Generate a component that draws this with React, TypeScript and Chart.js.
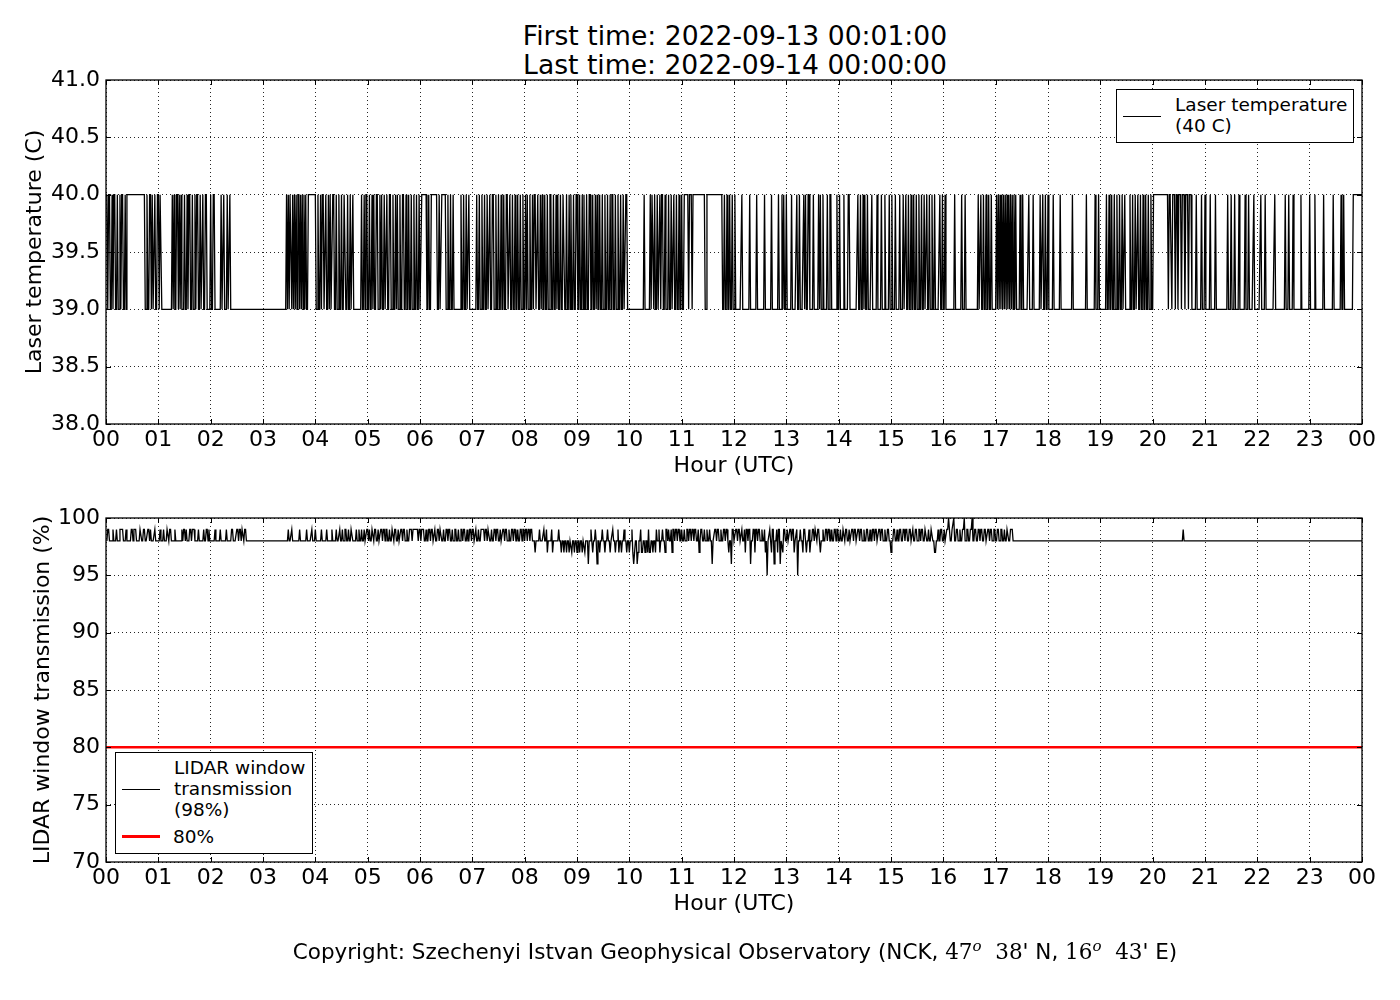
import { useEffect, useRef } from "react";
import { Chart, registerables } from "chart.js";

Chart.register(...registerables);

// hour labels on the x axis (minutes 0..1440, one tick per hour)
const hourTicks = ["00", "01", "02", "03", "04", "05", "06", "07", "08", "09", "10", "11", "12",
  "13", "14", "15", "16", "17", "18", "19", "20", "21", "22", "23", "00"];

const tempTicks = [38.0, 38.5, 39.0, 39.5, 40.0, 40.5, 41.0];
const transTicks = [70, 75, 80, 85, 90, 95, 100];

// laser temperature: minutes [from, to) where the reading is 40 C, otherwise 39 C
const laserHigh: [number, number][] = [
  [1, 2], [3, 5], [7, 8], [9, 11], [13, 14], [16, 17], [18, 20], [22, 23], [24, 45],
  [47, 48], [50, 52], [53, 54], [56, 57], [59, 61], [62, 64],
  [76, 77], [78, 79], [81, 83], [84, 85], [86, 87],
  [90, 91], [93, 94], [95, 97], [99, 100], [102, 103], [104, 106], [108, 109], [111, 112], [114, 116],
  [120, 121], [123, 125], [132, 133], [135, 136], [139, 140], [142, 143],
  [207, 208], [209, 210], [211, 213], [214, 215], [216, 217], [218, 219], [220, 222], [223, 224],
  [225, 226], [227, 228], [229, 230], [232, 241],
  [243, 244], [246, 247], [248, 250], [252, 253], [255, 256], [257, 258], [260, 262], [264, 265],
  [267, 268], [270, 271], [273, 275], [277, 278], [280, 281], [283, 284],
  [293, 294], [296, 297], [298, 300], [302, 303], [305, 306], [307, 308], [310, 312], [314, 315],
  [316, 317], [319, 320], [322, 323], [325, 327], [329, 330], [332, 333], [334, 335], [337, 338],
  [340, 342], [344, 345], [347, 348], [350, 351], [353, 354], [356, 357], [359, 360], [362, 368],
  [370, 371], [373, 380], [382, 383], [385, 390], [392, 393], [395, 396], [398, 399],
  [407, 408], [410, 411], [413, 414], [416, 417],
  [425, 426], [428, 429], [431, 432], [434, 435], [437, 438], [440, 441], [443, 445], [447, 448],
  [450, 451], [453, 454], [456, 457], [459, 461], [463, 464], [466, 467], [469, 470], [472, 473],
  [475, 476], [478, 479],
  [481, 482], [483, 484], [486, 487], [489, 490], [491, 493], [495, 496], [498, 499], [500, 501],
  [503, 504], [506, 507], [509, 511], [513, 514], [516, 517], [518, 519], [521, 522], [524, 526],
  [528, 529], [531, 532], [533, 534], [536, 537], [539, 541], [543, 544], [546, 547], [548, 549],
  [551, 552], [554, 556], [558, 559], [561, 562], [563, 564], [566, 567], [569, 570], [572, 573],
  [575, 576], [578, 579], [580, 582], [584, 585], [587, 588], [590, 591], [593, 594], [596, 598],
  [617, 618], [624, 625], [626, 628], [629, 630], [632, 633], [635, 636], [637, 639], [641, 642],
  [645, 646], [648, 649], [651, 652], [654, 655], [657, 658], [660, 661],
  [663, 668], [669, 672], [673, 687], [689, 707],
  [709, 710], [712, 713], [715, 716], [718, 719], [721, 722],
  [729, 730], [738, 739], [746, 747], [755, 756], [763, 764], [771, 772],
  [775, 776], [777, 778], [780, 781], [786, 787], [792, 793], [795, 796], [800, 801], [802, 803],
  [805, 807], [811, 812], [817, 818], [819, 820], [822, 823], [827, 828], [830, 832], [838, 839],
  [841, 842], [846, 847], [851, 853],
  [862, 863], [865, 866], [868, 869], [870, 871], [873, 874], [878, 879], [884, 885], [889, 890], [893, 894],
  [898, 899], [901, 902], [905, 906], [910, 911], [914, 915], [917, 918], [920, 921], [923, 924],
  [926, 927], [929, 930], [932, 933], [935, 936], [938, 939], [941, 942], [944, 945], [947, 948], [950, 951],
  [956, 957], [959, 960], [962, 963], [973, 974], [981, 982], [985, 986],
  [1000, 1001], [1003, 1004], [1006, 1007], [1009, 1010], [1012, 1013], [1015, 1016],
  [1021, 1022], [1023, 1024], [1025, 1026], [1027, 1028], [1029, 1030], [1031, 1032], [1033, 1034],
  [1035, 1036], [1037, 1038], [1039, 1040], [1041, 1042], [1043, 1044],
  [1048, 1049], [1051, 1052], [1058, 1059], [1063, 1064],
  [1071, 1072], [1074, 1075], [1077, 1078], [1080, 1081], [1086, 1087], [1094, 1095], [1108, 1109],
  [1124, 1125], [1134, 1135], [1138, 1139],
  [1147, 1148], [1150, 1151], [1153, 1154], [1156, 1157], [1159, 1160], [1162, 1163], [1165, 1166], [1168, 1169],
  [1174, 1175], [1177, 1178], [1180, 1181], [1183, 1184], [1186, 1187], [1189, 1190], [1192, 1193],
  [1195, 1196], [1198, 1199],
  [1201, 1218], [1219, 1222], [1223, 1226], [1227, 1229], [1230, 1233], [1234, 1237], [1238, 1241], [1242, 1245],
  [1250, 1251], [1256, 1257], [1260, 1261], [1266, 1267], [1272, 1273],
  [1286, 1287], [1290, 1291], [1294, 1295], [1299, 1300], [1306, 1307], [1310, 1311], [1316, 1317],
  [1324, 1325], [1329, 1330], [1340, 1341], [1352, 1353], [1356, 1357], [1361, 1362], [1370, 1371],
  [1380, 1381], [1386, 1387], [1396, 1397], [1407, 1408], [1416, 1417], [1419, 1420], [1430, 1441],
];

// window transmission: [minute, value] change points, the value holds until the next one (starts at 98 %)
const transChanges: [number, number][] = [
  [2, 99], [4, 98], [8, 99], [9, 98], [12, 99], [13, 98], [16, 99], [20, 98], [23, 99], [24, 98],
  [29, 99], [31, 98], [32, 99], [35, 98], [39, 99], [41, 98], [43, 99], [45, 98], [48, 99], [50, 98],
  [51, 99], [52, 98], [56, 99], [57, 98], [62, 99], [63, 98], [66, 99], [67, 98], [70, 99], [72, 98],
  [73, 99], [75, 98], [79, 99], [80, 98], [87, 99], [88, 98], [89, 99], [91, 98], [92, 99], [93, 98],
  [96, 99], [98, 98], [99, 99], [102, 98], [106, 99], [107, 98], [112, 99], [113, 98], [115, 99], [117, 98],
  [118, 99], [119, 98], [125, 99], [126, 98], [131, 99], [132, 98], [138, 99], [139, 98], [144, 99], [146, 98],
  [150, 99], [152, 98], [153, 99], [155, 98], [156, 99], [158, 98], [159, 99], [161, 98],
  [209, 99], [210, 98], [213, 99], [214, 98], [222, 99], [223, 98], [230, 99], [231, 98], [236, 99], [237, 98],
  [240, 99], [241, 98], [247, 99], [248, 98], [253, 99], [254, 98], [259, 99], [260, 98], [264, 99], [265, 98],
  [268, 99], [269, 98], [271, 99], [272, 98], [274, 99], [276, 98], [278, 99], [279, 98], [281, 99], [283, 98],
  [287, 99], [288, 98], [290, 99], [291, 98], [293, 99], [294, 98], [296, 99], [297, 98], [299, 99], [301, 98],
  [302, 99], [303, 98], [305, 99], [307, 98], [308, 99], [310, 98], [312, 99], [313, 98], [315, 99], [317, 98],
  [318, 99], [320, 98], [321, 99], [323, 98], [325, 99], [326, 98], [328, 99], [330, 98], [331, 99], [333, 98],
  [335, 99], [336, 98], [338, 99], [340, 98], [341, 99], [343, 98], [345, 99], [346, 98], [348, 99], [351, 98],
  [352, 99], [358, 98], [359, 99], [361, 98], [362, 99], [365, 98], [367, 99], [368, 98], [370, 99], [372, 98],
  [373, 99], [375, 98], [377, 99], [378, 98], [380, 99], [382, 98], [383, 99], [385, 98], [387, 99], [388, 98],
  [390, 99], [392, 98], [393, 99], [395, 98], [397, 99], [398, 98], [400, 99], [402, 98], [404, 99], [405, 98],
  [407, 99], [409, 98], [410, 99], [412, 98], [414, 99], [415, 98], [417, 99], [419, 98], [420, 99], [422, 98],
  [424, 99], [425, 98], [427, 99], [428, 98], [430, 99], [434, 98], [435, 99], [437, 98], [438, 99], [440, 98],
  [442, 99], [443, 98], [445, 99], [447, 98], [448, 99], [450, 98], [452, 99], [453, 98], [455, 99], [457, 98],
  [458, 99], [460, 98], [462, 99], [463, 98], [465, 99], [467, 98], [468, 99], [470, 98], [472, 99], [473, 98],
  [475, 99], [477, 98], [478, 99], [480, 98], [481, 99], [483, 98], [484, 99], [486, 98], [487, 99], [489, 98],
  [492, 97], [493, 98], [497, 99], [498, 98], [502, 99], [503, 98], [505, 99], [506, 97], [507, 98], [511, 99],
  [512, 97], [513, 98], [519, 99], [520, 98],
  [522, 97], [523, 98], [525, 97], [526, 98], [528, 97], [529, 98], [531, 97], [532, 98], [534, 97], [535, 98],
  [537, 97], [538, 98], [540, 97], [541, 98], [543, 97], [544, 98], [546, 97], [547, 98], [549, 97], [550, 98],
  [553, 96], [554, 98], [556, 99], [557, 98], [558, 97], [559, 98], [561, 99], [562, 98], [563, 96], [564, 98],
  [566, 97], [567, 98], [569, 99], [570, 98], [572, 97], [573, 98], [575, 99], [576, 98], [578, 97], [579, 98],
  [581, 99], [582, 98], [584, 97], [585, 98], [587, 99], [588, 97], [589, 98], [591, 97], [592, 98], [594, 99],
  [595, 98], [597, 97], [598, 98], [600, 97], [601, 98],
  [603, 99], [604, 97], [605, 96], [606, 97], [607, 98], [609, 96], [610, 97], [611, 98], [613, 99], [614, 97],
  [616, 98], [618, 97], [619, 98], [621, 97], [622, 99], [623, 97], [625, 98], [627, 97], [628, 98], [630, 97],
  [631, 99], [632, 98], [634, 99], [635, 97], [636, 98], [638, 99], [639, 98], [641, 97], [642, 99], [644, 98],
  [645, 99], [646, 98], [648, 99], [649, 97], [650, 99], [652, 98], [653, 99], [655, 98], [656, 99], [658, 98],
  [660, 99], [661, 98], [663, 99], [664, 98], [666, 99], [668, 98], [669, 99], [671, 98], [672, 99], [674, 98],
  [675, 99], [677, 98], [679, 99], [680, 97], [681, 98], [682, 99], [684, 98], [686, 99], [687, 98], [689, 99],
  [690, 98], [692, 99], [693, 98], [695, 96], [696, 98], [698, 99], [700, 98], [701, 99], [703, 98], [705, 99],
  [706, 98], [708, 99], [710, 98], [711, 99], [713, 98], [714, 97], [715, 98], [717, 96], [718, 99], [720, 98],
  [722, 99], [724, 98], [725, 99], [727, 98], [729, 99], [730, 98], [732, 99], [733, 97], [734, 99], [736, 98],
  [737, 99], [739, 96], [740, 98], [742, 99], [744, 97], [745, 99], [747, 98], [748, 99], [750, 98], [752, 99],
  [753, 98], [755, 99], [756, 97], [757, 98], [758, 95], [759, 98], [761, 99], [762, 98], [763, 97], [764, 99],
  [766, 96], [767, 98], [769, 99], [770, 97], [771, 99], [773, 96], [774, 98], [776, 97], [777, 99], [779, 98],
  [781, 99], [782, 98], [784, 99], [786, 98], [787, 99], [789, 97], [790, 98], [792, 99], [793, 95], [794, 98],
  [796, 99], [797, 98], [799, 97], [800, 99], [802, 98], [803, 97], [804, 98], [806, 99], [807, 97], [808, 98],
  [810, 99], [812, 98], [813, 99], [815, 98], [816, 99], [818, 98], [819, 97], [820, 98], [822, 99], [823, 98],
  [825, 99], [827, 98], [828, 99], [830, 98], [832, 99], [833, 98], [835, 99], [837, 98], [838, 99], [840, 98],
  [842, 99], [843, 98], [845, 99], [847, 98], [848, 99], [850, 98], [852, 99], [853, 98], [855, 99], [857, 98],
  [858, 99], [860, 98], [862, 99], [864, 98], [865, 99], [867, 98], [869, 99], [870, 98], [872, 99], [874, 98],
  [876, 99], [877, 98], [879, 99], [881, 98], [882, 99], [884, 98], [886, 99], [888, 98], [889, 99], [891, 98],
  [893, 99], [894, 98], [896, 99], [898, 98], [900, 97], [901, 98], [903, 99], [905, 98], [907, 99], [908, 98],
  [910, 99], [912, 98], [914, 99], [916, 98], [917, 99], [919, 98], [921, 99], [923, 98], [925, 99], [926, 98],
  [928, 99], [930, 98], [932, 99], [934, 98], [935, 99], [937, 98], [939, 99], [941, 98], [943, 99], [944, 98],
  [946, 99], [948, 98], [950, 97], [952, 98], [954, 99], [955, 98], [957, 99], [959, 98], [961, 99], [962, 98],
  [964, 99], [966, 100], [967, 99], [968, 98], [970, 99], [972, 100], [973, 98], [975, 99], [977, 98], [979, 99],
  [980, 98], [982, 99], [984, 100], [985, 98], [987, 99], [989, 98], [991, 99], [993, 100], [994, 98], [996, 99],
  [998, 98], [1000, 99], [1002, 98], [1003, 99], [1005, 98], [1007, 99], [1009, 98], [1011, 99], [1013, 98],
  [1014, 99], [1016, 98], [1018, 99], [1020, 98], [1022, 99], [1024, 98], [1026, 99], [1028, 98], [1030, 99],
  [1031, 98], [1033, 99], [1035, 98], [1037, 99], [1040, 98], [1235, 99], [1236, 98],
];

const threshold = 80;

const FONT = "'DejaVu Sans', sans-serif";

function laserSeries() {
  const pts: { x: number; y: number }[] = [];
  for (let m = 1; m <= 1440; m++) {
    const hi = laserHigh.some(([a, b]) => m >= a && m < b);
    pts.push({ x: m, y: hi ? 40 : 39 });
  }
  return pts;
}

function transSeries() {
  const pts: { x: number; y: number }[] = [];
  let v = 98;
  let k = 0;
  for (let m = 1; m <= 1440; m++) {
    while (k < transChanges.length && transChanges[k][0] <= m) {
      v = transChanges[k][1];
      k++;
    }
    pts.push({ x: m, y: v });
  }
  return pts;
}

// matplotlib-like frame with inward ticks on all four sides
const frame = {
  id: "frame",
  afterDatasetsDraw(chart: any) {
    const { ctx, chartArea: a, scales } = chart;
    const L = 5;
    ctx.save();
    ctx.strokeStyle = "#000";
    ctx.lineWidth = 1;
    ctx.beginPath();
    scales.x.ticks.forEach((t: any) => {
      const p = Math.round(scales.x.getPixelForValue(t.value)) + 0.5;
      ctx.moveTo(p, a.bottom); ctx.lineTo(p, a.bottom - L);
      ctx.moveTo(p, a.top); ctx.lineTo(p, a.top + L);
    });
    scales.y.ticks.forEach((t: any) => {
      const p = Math.round(scales.y.getPixelForValue(t.value)) + 0.5;
      ctx.moveTo(a.left, p); ctx.lineTo(a.left + L, p);
      ctx.moveTo(a.right, p); ctx.lineTo(a.right - L, p);
    });
    ctx.stroke();
    ctx.lineWidth = 1.3;
    ctx.strokeRect(a.left, a.top, a.right - a.left, a.bottom - a.top);
    ctx.restore();
  },
};

function makeOptions(yMin: number, yMax: number, yTicks: number[], yTitle: string, yTitlePad: number, topPad: number, digits: number) {
  return {
    animation: false as const,
    responsive: false,
    devicePixelRatio: 1,
    layout: { padding: { top: topPad, right: 38, left: 0, bottom: 0 } },
    plugins: { legend: { display: false }, tooltip: { enabled: false } },
    elements: { point: { radius: 0 }, line: { tension: 0 } },
    scales: {
      x: {
        type: "linear" as const,
        min: 0,
        max: 1440,
        afterFit: (s: any) => { s.height = 56; },
        afterBuildTicks: (s: any) => { s.ticks = hourTicks.map((_, i) => ({ value: i * 60 })); },
        ticks: {
          autoSkip: false,
          maxRotation: 0,
          padding: 3,
          color: "#000",
          font: { family: FONT, size: 22 },
          callback: (_v: any, i: number) => hourTicks[i],
        },
        grid: { color: "rgba(0,0,0,0.85)", lineWidth: 1, drawTicks: false },
        border: { display: false, dash: [1, 3] },
        title: { display: true, text: "Hour (UTC)", color: "#000", font: { family: FONT, size: 22 }, padding: { top: 0, bottom: 1 } },
      },
      y: {
        min: yMin,
        max: yMax,
        afterFit: (s: any) => { s.width = 106; },
        afterBuildTicks: (s: any) => { s.ticks = yTicks.map((v) => ({ value: v })); },
        ticks: {
          padding: 6,
          color: "#000",
          font: { family: FONT, size: 22 },
          callback: (v: any) => Number(v).toFixed(digits),
        },
        grid: { color: "rgba(0,0,0,0.85)", lineWidth: 1, drawTicks: false },
        border: { display: false, dash: [1, 3] },
        title: { display: true, text: yTitle, color: "#000", font: { family: FONT, size: 22 }, padding: { top: yTitlePad, bottom: 0 } },
      },
    },
  };
}

export default function App() {
  const topRef = useRef<HTMLCanvasElement>(null);
  const botRef = useRef<HTMLCanvasElement>(null);

  useEffect(() => {
    if (!topRef.current || !botRef.current) return;
    const top = new Chart(topRef.current, {
      type: "line",
      data: {
        datasets: [{
          label: "Laser temperature (40 C)",
          data: laserSeries(),
          borderColor: "#000",
          borderWidth: 1.3,
          pointRadius: 0,
        }],
      },
      options: makeOptions(38, 41, tempTicks, "Laser temperature (C)", 22, 80, 1) as any,
      plugins: [frame],
    });
    const bot = new Chart(botRef.current, {
      type: "line",
      data: {
        datasets: [
          {
            label: "LIDAR window transmission (98%)",
            data: transSeries(),
            borderColor: "#000",
            borderWidth: 1.3,
            pointRadius: 0,
          },
          {
            label: "80%",
            data: [{ x: 0, y: threshold }, { x: 1440, y: threshold }],
            borderColor: "#ff0000",
            borderWidth: 2.5,
            pointRadius: 0,
          },
        ],
      },
      options: makeOptions(70, 100, transTicks, "LIDAR window transmission (%)", 30, 38, 0) as any,
      plugins: [frame],
    });
    return () => {
      top.destroy();
      bot.destroy();
    };
  }, []);

  const serif = { fontFamily: "'DejaVu Serif', serif" };
  const supStyle = { ...serif, fontStyle: "italic" as const, fontSize: 15 };

  return (
    <div style={{ position: "fixed", left: 0, top: 0, width: 1400, height: 1000, background: "#fff", fontFamily: FONT, color: "#000" }}>
      <div style={{ position: "absolute", left: 0, top: 21, width: 1470, textAlign: "center", fontSize: 26.6, lineHeight: "29px" }}>
        First time: 2022-09-13 00:01:00<br />Last time: 2022-09-14 00:00:00
      </div>
      <canvas ref={topRef} width={1400} height={480} style={{ position: "absolute", left: 0, top: 0 }} />
      <canvas ref={botRef} width={1400} height={438} style={{ position: "absolute", left: 0, top: 480 }} />

      {/* top legend */}
      <div style={{ position: "absolute", left: 1116, top: 89, width: 238, height: 54, boxSizing: "border-box", border: "1.3px solid #000", background: "#fff" }} />
      <div style={{ position: "absolute", left: 1123, top: 116, width: 38, height: 1.3, background: "#000" }} />
      <div style={{ position: "absolute", left: 1175, top: 95, fontSize: 18.5, lineHeight: "20.5px", whiteSpace: "nowrap" }}>
        Laser temperature<br />(40 C)
      </div>

      {/* bottom legend */}
      <div style={{ position: "absolute", left: 115, top: 752, width: 198, height: 102, boxSizing: "border-box", border: "1.3px solid #000", background: "#fff" }} />
      <div style={{ position: "absolute", left: 122, top: 789, width: 38, height: 1.3, background: "#000" }} />
      <div style={{ position: "absolute", left: 174, top: 757, fontSize: 18.5, lineHeight: "21px", whiteSpace: "nowrap" }}>
        LIDAR window<br />transmission<br />(98%)
      </div>
      <div style={{ position: "absolute", left: 122, top: 835, width: 38, height: 2.5, background: "#ff0000" }} />
      <div style={{ position: "absolute", left: 173, top: 826, fontSize: 18.5, lineHeight: "21px", whiteSpace: "nowrap" }}>80%</div>

      <div style={{ position: "absolute", left: 0, top: 932, width: 1470, textAlign: "center", fontSize: 21.5, lineHeight: "28px", whiteSpace: "nowrap" }}>
        Copyright: Szechenyi Istvan Geophysical Observatory (NCK, <span style={serif}>47</span>
        <sup style={supStyle}>o</sup>&nbsp;&nbsp;<span style={serif}>38</span>' N, <span style={serif}>16</span>
        <sup style={supStyle}>o</sup>&nbsp;&nbsp;<span style={serif}>43</span>' E)
      </div>
    </div>
  );
}
